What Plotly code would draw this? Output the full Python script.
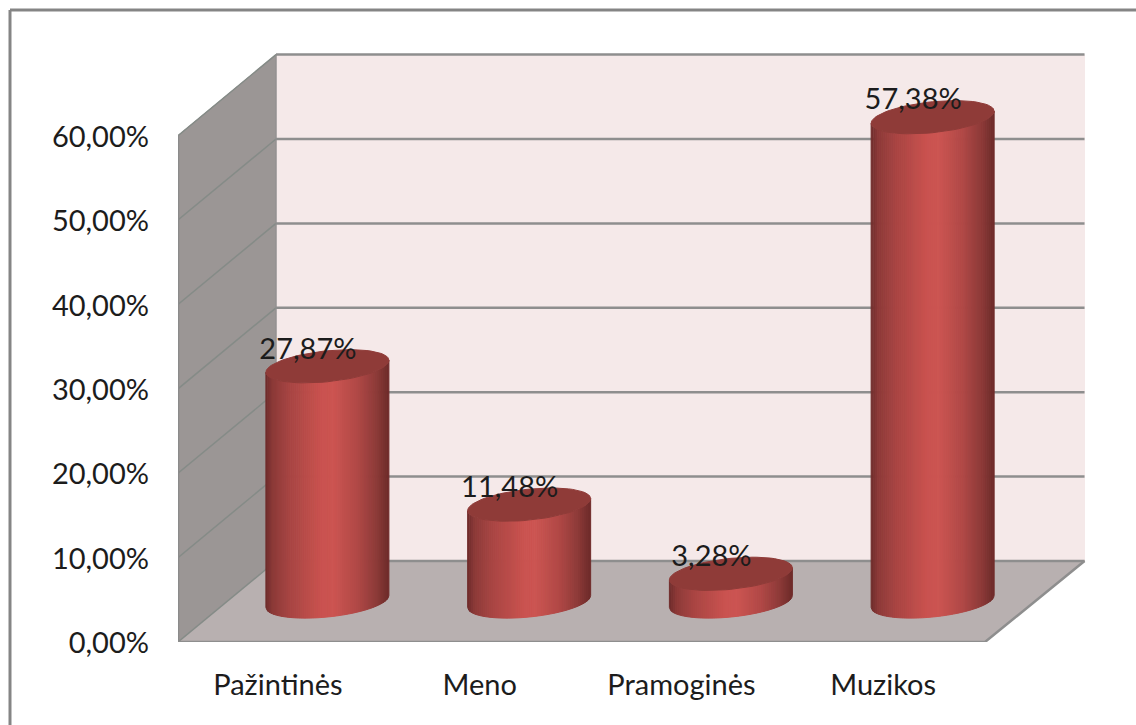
import math
import plotly.graph_objects as go

categories = ["Pažintinės", "Meno", "Pramoginės", "Muzikos"]
values = [27.87, 11.48, 3.28, 57.38]
data_labels = ["27,87%", "11,48%", "3,28%", "57,38%"]
y_ticks = [0, 10, 20, 30, 40, 50, 60]
y_tick_labels = ["0,00%", "10,00%", "20,00%", "30,00%", "40,00%", "50,00%", "60,00%"]

# layout in pixels
L, R, T, B = 178, 1090, 50, 642
W, H = 1136, 725
PX_X = 201.75      # pixels per category
PX_Y = 8.44        # pixels per percent
X0 = (L - 279.9) / PX_X
X1 = (R - 279.9) / PX_X
Y1 = (B - T) / PX_Y
DEPTH_X = 98 / PX_X
DEPTH_Y = 81 / PX_Y
FRONT_RIGHT = 3.495  # right end of the front plane, in category units

CYL_SHIFT = -1.5 / PX_X
RAD_X = 61.5 / PX_X
RAD_Y = 15.5 / PX_Y
TILT = 6 / PX_Y

shade_stops = [(0, "#6d2b2a"), (0.06, "#8c3a38"), (0.2, "#a84543"), (0.45, "#c9524f"),
               (0.55, "#cc5552"), (0.75, "#b04846"), (0.9, "#8d3a38"), (1, "#6d2b2a")]


def rgb(h):
    return tuple(int(h[i:i + 2], 16) for i in (1, 3, 5))


def shade(u):
    for (a, ca), (b, cb) in zip(shade_stops, shade_stops[1:]):
        if a <= u <= b:
            f = (u - a) / (b - a)
            p, q = rgb(ca), rgb(cb)
            return "rgb(%d,%d,%d)" % tuple(round(p[i] + (q[i] - p[i]) * f) for i in range(3))
    return shade_stops[-1][1]


fig = go.Figure()


def poly(xs, ys, color, line=None):
    fig.add_trace(go.Scatter(x=xs, y=ys, mode="lines", fill="toself", fillcolor=color,
                             line=dict(color=line or color, width=1),
                             hoverinfo="skip", showlegend=False))


def seg(xs, ys, color, width):
    fig.add_trace(go.Scatter(x=xs, y=ys, mode="lines", line=dict(color=color, width=width),
                             hoverinfo="skip", showlegend=False))


# walls
bx0, bx1 = X0 + DEPTH_X, FRONT_RIGHT + 99.5 / PX_X
top_back = 60 + DEPTH_Y
poly([bx0, bx1, bx1, bx0, bx0], [DEPTH_Y, DEPTH_Y, top_back, top_back, DEPTH_Y], "#f5e9e9")
poly([X0, bx0, bx0, X0, X0], [0, DEPTH_Y, top_back, 60, 0], "#9b9695")
poly([X0, bx0, bx1, FRONT_RIGHT, X0], [0, DEPTH_Y, DEPTH_Y, 0, 0], "#b8b0b0")
for v in y_ticks:
    seg([bx0, bx1], [v + DEPTH_Y, v + DEPTH_Y], "#8e8e8e", 2.5)
    seg([X0, bx0], [v, v + DEPTH_Y], "#858b87", 1.5)
seg([X0, X0], [0, 60], "#8b8b8b", 2.5)
seg([bx0, bx0], [DEPTH_Y, top_back], "#8f8f8f", 1)
seg([X0, FRONT_RIGHT, bx1], [0, 0, DEPTH_Y], "#8e8e8e", 2.5)

# cylinders
N = 61
for i, v in enumerate(values):
    cx = i + DEPTH_X / 2 + CYL_SHIFT
    base = DEPTH_Y / 2
    top = base + v

    def off(c):
        return -RAD_Y * math.sqrt(max(0, 1 - c * c)) + TILT * c

    for s in range(N):
        u0, u1 = s / N, (s + 1) / N
        c0, c1 = 2 * u0 - 1, 2 * u1 - 1
        cs = [c0 + (c1 - c0) * j / 3 for j in range(4)]
        xs = [cx + RAD_X * c for c in cs]
        poly(xs + xs[::-1] + xs[:1],
             [base + off(c) for c in cs] + [top + off(c) for c in cs[::-1]] + [base + off(c0)],
             shade((u0 + u1) / 2))
    ts = [2 * math.pi * j / 72 for j in range(73)]
    poly([cx + RAD_X * math.cos(t) for t in ts],
         [top + RAD_Y * math.sin(t) + TILT * math.cos(t) for t in ts], "#8f3b38")

# data labels
fig.add_trace(go.Scatter(
    x=[i + DEPTH_X / 2 + CYL_SHIFT - 19.5 / PX_X for i in range(len(values))],
    y=[DEPTH_Y / 2 + v + 15 / PX_Y for v in values],
    mode="text", text=data_labels, textposition="middle center",
    textfont=dict(family="Lato", size=29, color="#1c1c1c"),
    hoverinfo="skip", showlegend=False))

# outer frame, reaching past the right edge of the page
fx = lambda p: (p - L) / (R - L)
fy = lambda p: (B - p) / (B - T)
frame = dict(type="line", xref="paper", yref="paper", line=dict(color="#858585", width=3))
fig.add_shape(x0=fx(10), x1=fx(W + 5), y0=fy(10), y1=fy(10), **frame)
fig.add_shape(x0=fx(10), x1=fx(10), y0=fy(10), y1=fy(H + 5), **frame)

fig.update_layout(
    width=W, height=H, margin=dict(l=L, r=W - R, t=T, b=H - B, autoexpand=False),
    paper_bgcolor="white", plot_bgcolor="white", showlegend=False,
    font=dict(family="Lato", size=29, color="#1c1c1c"),
    xaxis=dict(range=[X0, X1], tickmode="array", tickvals=list(range(4)), ticktext=categories,
               showgrid=False, zeroline=False, showline=False, ticks="", ticklabelstandoff=23,
               ticklabelshift=-2),
    yaxis=dict(range=[0, Y1], tickmode="array", tickvals=y_ticks, ticktext=y_tick_labels,
               showgrid=False, zeroline=False, showline=False, ticks="", ticklabelstandoff=28,
               ticklabelshift=1),
)
fig.write_html("out.html", config=dict(displayModeBar=False),
               post_script="document.body.style.margin='0';document.body.style.overflow='hidden';")
